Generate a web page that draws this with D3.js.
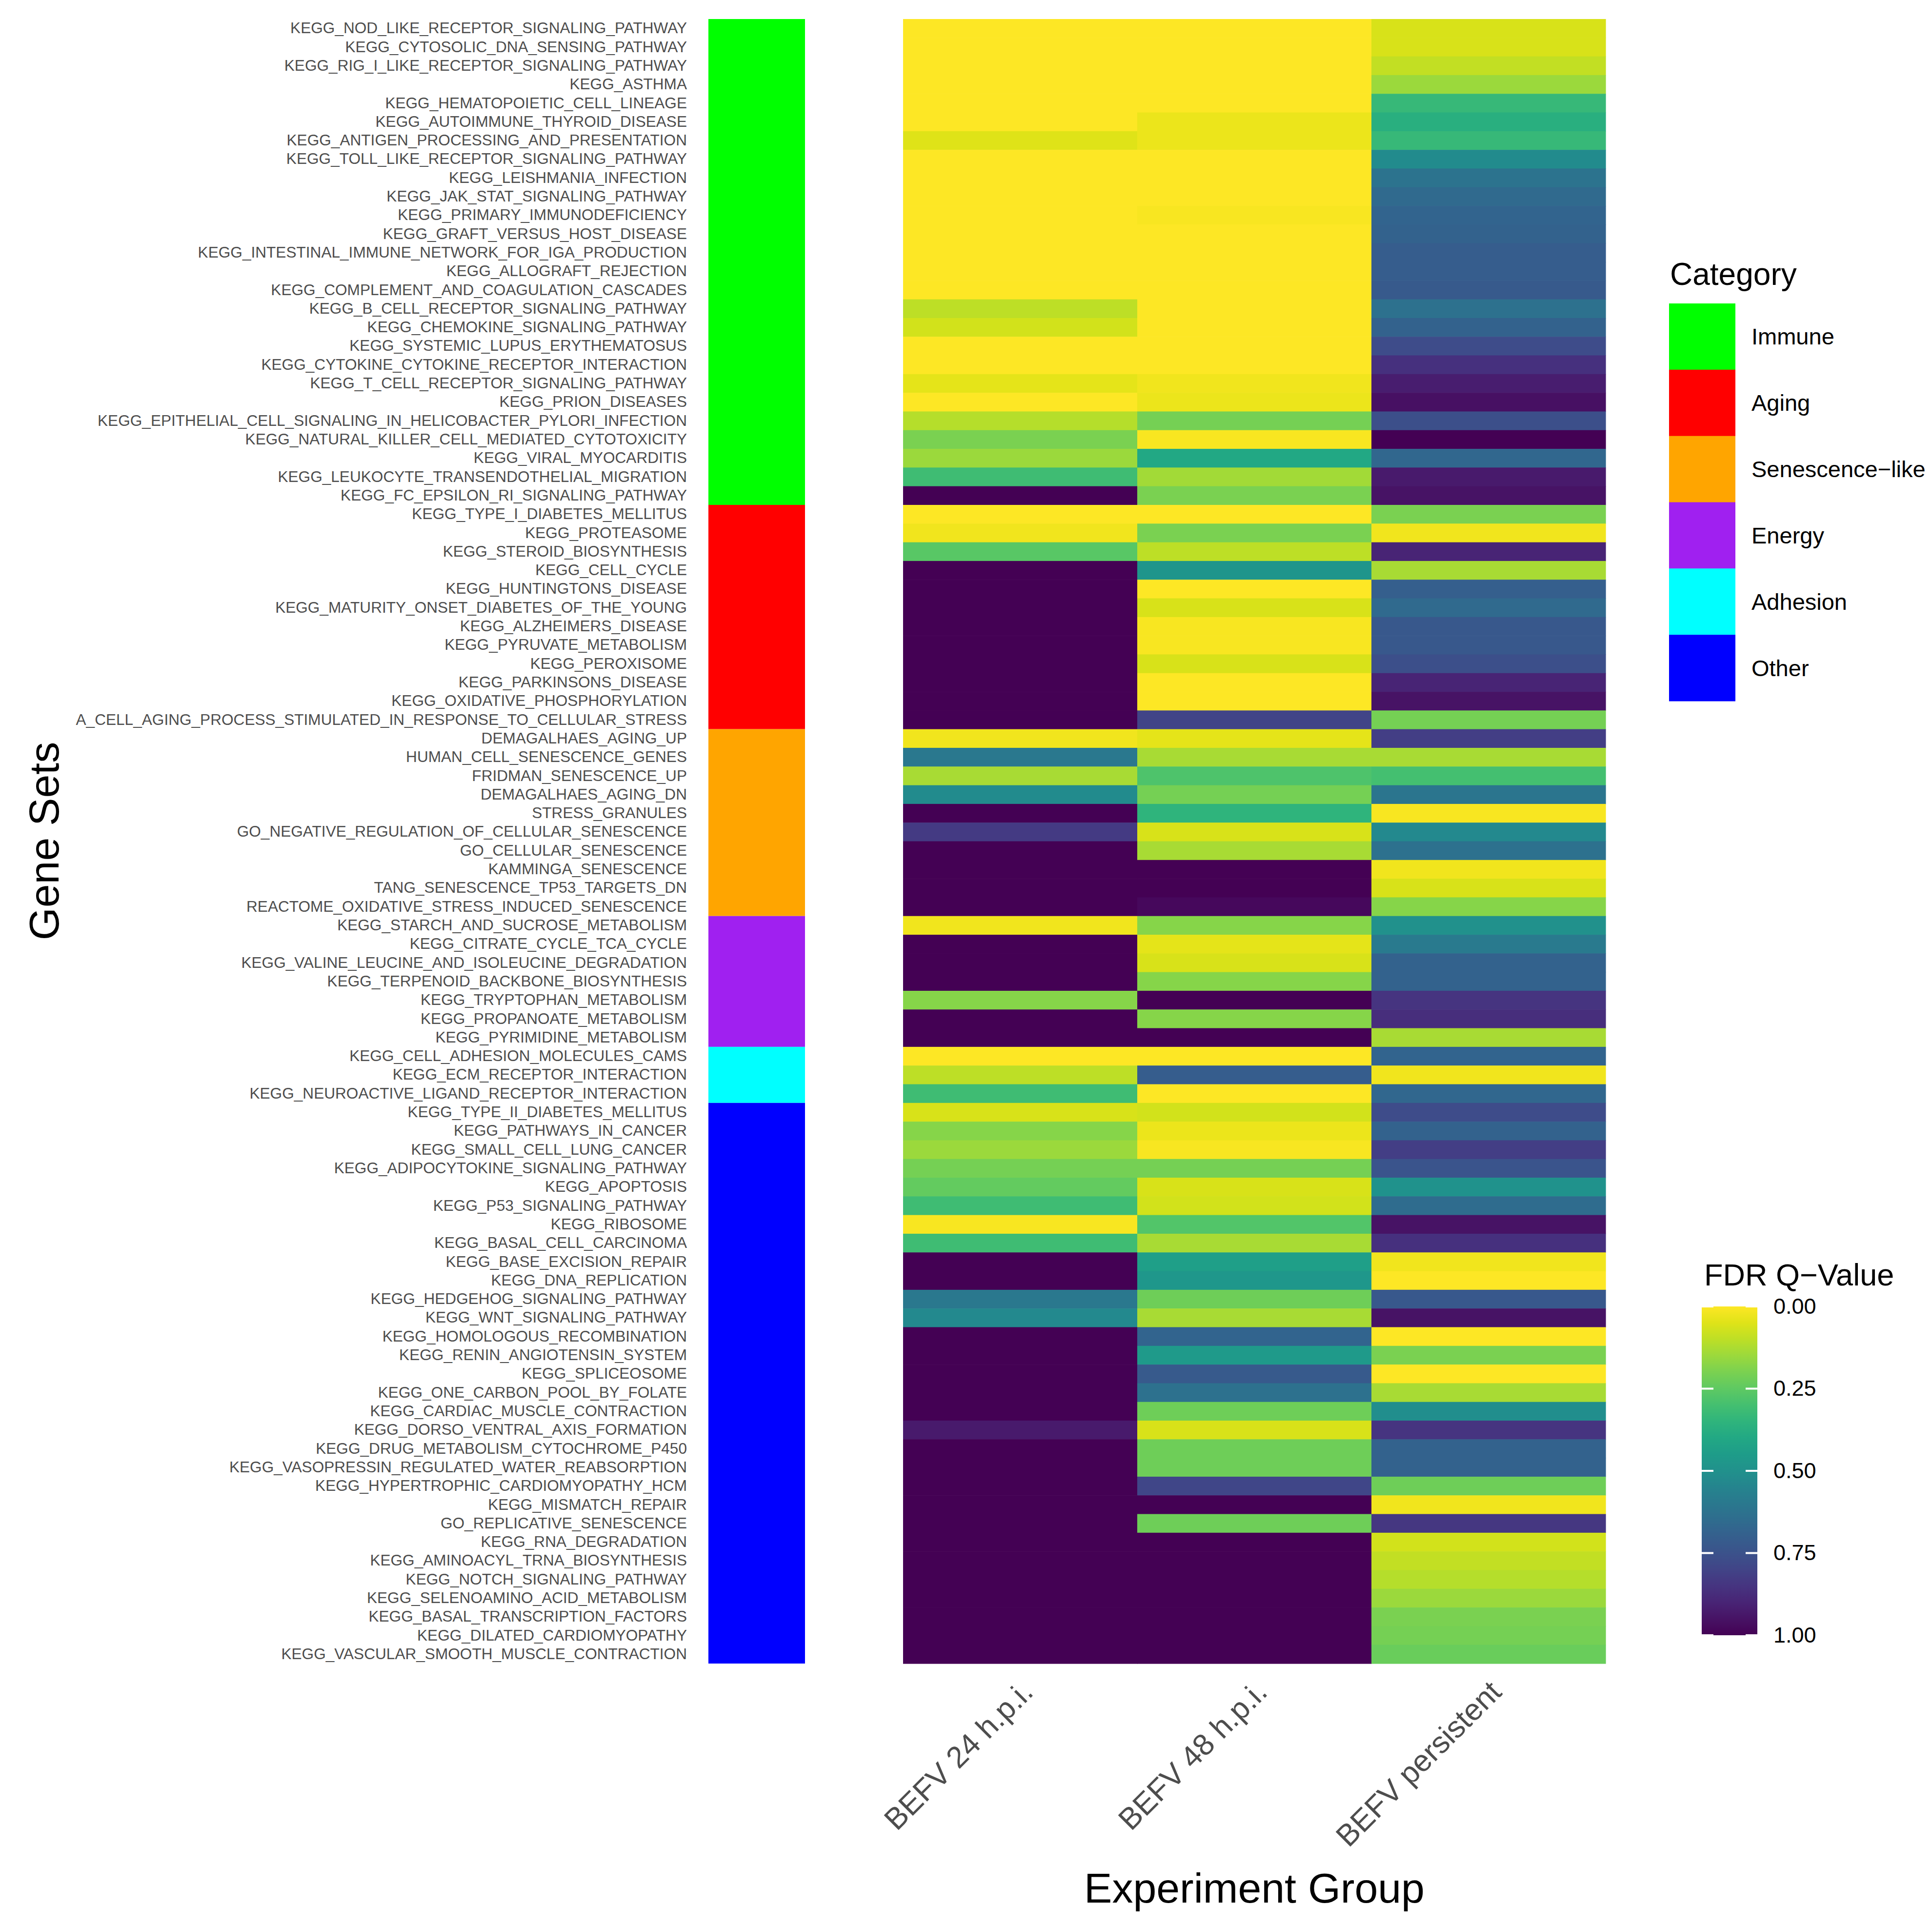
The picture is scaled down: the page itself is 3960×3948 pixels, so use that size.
<!DOCTYPE html>
<html>
<head>
<meta charset="utf-8">
<script src="https://cdn.jsdelivr.net/npm/d3@7"></script>
<style>
  body { margin: 0; background: #fff; }
  svg { display: block; font-family: "Liberation Sans", Arial, sans-serif; }
</style>
</head>
<body>
<svg id="chart" width="3960" height="3948"></svg>
<script>
// gene sets, top to bottom
const geneSets = [
  "KEGG_NOD_LIKE_RECEPTOR_SIGNALING_PATHWAY",
  "KEGG_CYTOSOLIC_DNA_SENSING_PATHWAY",
  "KEGG_RIG_I_LIKE_RECEPTOR_SIGNALING_PATHWAY",
  "KEGG_ASTHMA",
  "KEGG_HEMATOPOIETIC_CELL_LINEAGE",
  "KEGG_AUTOIMMUNE_THYROID_DISEASE",
  "KEGG_ANTIGEN_PROCESSING_AND_PRESENTATION",
  "KEGG_TOLL_LIKE_RECEPTOR_SIGNALING_PATHWAY",
  "KEGG_LEISHMANIA_INFECTION",
  "KEGG_JAK_STAT_SIGNALING_PATHWAY",
  "KEGG_PRIMARY_IMMUNODEFICIENCY",
  "KEGG_GRAFT_VERSUS_HOST_DISEASE",
  "KEGG_INTESTINAL_IMMUNE_NETWORK_FOR_IGA_PRODUCTION",
  "KEGG_ALLOGRAFT_REJECTION",
  "KEGG_COMPLEMENT_AND_COAGULATION_CASCADES",
  "KEGG_B_CELL_RECEPTOR_SIGNALING_PATHWAY",
  "KEGG_CHEMOKINE_SIGNALING_PATHWAY",
  "KEGG_SYSTEMIC_LUPUS_ERYTHEMATOSUS",
  "KEGG_CYTOKINE_CYTOKINE_RECEPTOR_INTERACTION",
  "KEGG_T_CELL_RECEPTOR_SIGNALING_PATHWAY",
  "KEGG_PRION_DISEASES",
  "KEGG_EPITHELIAL_CELL_SIGNALING_IN_HELICOBACTER_PYLORI_INFECTION",
  "KEGG_NATURAL_KILLER_CELL_MEDIATED_CYTOTOXICITY",
  "KEGG_VIRAL_MYOCARDITIS",
  "KEGG_LEUKOCYTE_TRANSENDOTHELIAL_MIGRATION",
  "KEGG_FC_EPSILON_RI_SIGNALING_PATHWAY",
  "KEGG_TYPE_I_DIABETES_MELLITUS",
  "KEGG_PROTEASOME",
  "KEGG_STEROID_BIOSYNTHESIS",
  "KEGG_CELL_CYCLE",
  "KEGG_HUNTINGTONS_DISEASE",
  "KEGG_MATURITY_ONSET_DIABETES_OF_THE_YOUNG",
  "KEGG_ALZHEIMERS_DISEASE",
  "KEGG_PYRUVATE_METABOLISM",
  "KEGG_PEROXISOME",
  "KEGG_PARKINSONS_DISEASE",
  "KEGG_OXIDATIVE_PHOSPHORYLATION",
  "A_CELL_AGING_PROCESS_STIMULATED_IN_RESPONSE_TO_CELLULAR_STRESS",
  "DEMAGALHAES_AGING_UP",
  "HUMAN_CELL_SENESCENCE_GENES",
  "FRIDMAN_SENESCENCE_UP",
  "DEMAGALHAES_AGING_DN",
  "STRESS_GRANULES",
  "GO_NEGATIVE_REGULATION_OF_CELLULAR_SENESCENCE",
  "GO_CELLULAR_SENESCENCE",
  "KAMMINGA_SENESCENCE",
  "TANG_SENESCENCE_TP53_TARGETS_DN",
  "REACTOME_OXIDATIVE_STRESS_INDUCED_SENESCENCE",
  "KEGG_STARCH_AND_SUCROSE_METABOLISM",
  "KEGG_CITRATE_CYCLE_TCA_CYCLE",
  "KEGG_VALINE_LEUCINE_AND_ISOLEUCINE_DEGRADATION",
  "KEGG_TERPENOID_BACKBONE_BIOSYNTHESIS",
  "KEGG_TRYPTOPHAN_METABOLISM",
  "KEGG_PROPANOATE_METABOLISM",
  "KEGG_PYRIMIDINE_METABOLISM",
  "KEGG_CELL_ADHESION_MOLECULES_CAMS",
  "KEGG_ECM_RECEPTOR_INTERACTION",
  "KEGG_NEUROACTIVE_LIGAND_RECEPTOR_INTERACTION",
  "KEGG_TYPE_II_DIABETES_MELLITUS",
  "KEGG_PATHWAYS_IN_CANCER",
  "KEGG_SMALL_CELL_LUNG_CANCER",
  "KEGG_ADIPOCYTOKINE_SIGNALING_PATHWAY",
  "KEGG_APOPTOSIS",
  "KEGG_P53_SIGNALING_PATHWAY",
  "KEGG_RIBOSOME",
  "KEGG_BASAL_CELL_CARCINOMA",
  "KEGG_BASE_EXCISION_REPAIR",
  "KEGG_DNA_REPLICATION",
  "KEGG_HEDGEHOG_SIGNALING_PATHWAY",
  "KEGG_WNT_SIGNALING_PATHWAY",
  "KEGG_HOMOLOGOUS_RECOMBINATION",
  "KEGG_RENIN_ANGIOTENSIN_SYSTEM",
  "KEGG_SPLICEOSOME",
  "KEGG_ONE_CARBON_POOL_BY_FOLATE",
  "KEGG_CARDIAC_MUSCLE_CONTRACTION",
  "KEGG_DORSO_VENTRAL_AXIS_FORMATION",
  "KEGG_DRUG_METABOLISM_CYTOCHROME_P450",
  "KEGG_VASOPRESSIN_REGULATED_WATER_REABSORPTION",
  "KEGG_HYPERTROPHIC_CARDIOMYOPATHY_HCM",
  "KEGG_MISMATCH_REPAIR",
  "GO_REPLICATIVE_SENESCENCE",
  "KEGG_RNA_DEGRADATION",
  "KEGG_AMINOACYL_TRNA_BIOSYNTHESIS",
  "KEGG_NOTCH_SIGNALING_PATHWAY",
  "KEGG_SELENOAMINO_ACID_METABOLISM",
  "KEGG_BASAL_TRANSCRIPTION_FACTORS",
  "KEGG_DILATED_CARDIOMYOPATHY",
  "KEGG_VASCULAR_SMOOTH_MUSCLE_CONTRACTION"
];

const categories = ["Immune", "Aging", "Senescence\u2212like", "Energy", "Adhesion", "Other"];
const categorySizes = [26, 12, 10, 7, 3, 30];
const categoryColors = ["#00ff00", "#ff0000", "#ffa500", "#a020f0", "#00ffff", "#0000ff"];

const groups = ["BEFV 24 h.p.i.", "BEFV 48 h.p.i.", "BEFV persistent"];

// FDR q-values, one per gene set
const q24 = [
  0, 0, 0, 0, 0, 0, 0.05, 0, 0, 0, 0, 0, 0, 0, 0, 0.10, 0.07, 0, 0, 0.04, 0, 0.11, 0.20, 0.15, 0.31, 1,
  0, 0.02, 0.26, 1, 1, 1, 1, 1, 1, 1, 1, 1,
  0.02, 0.60, 0.13, 0.52, 1, 0.83, 1, 1, 1, 1,
  0.02, 1, 1, 1, 0.18, 1, 1,
  0, 0.10, 0.31,
  0.06, 0.18, 0.15, 0.21, 0.24, 0.31, 0.01, 0.31, 1, 1, 0.60, 0.53, 1, 1, 1, 1, 1, 0.93,
  1, 1, 1, 1, 1, 1, 1, 1, 1, 1, 1, 1
];
const q48 = [
  0, 0, 0, 0, 0, 0.03, 0.03, 0, 0, 0, 0.01, 0, 0, 0, 0, 0, 0, 0, 0, 0.02, 0.03, 0.21, 0.01, 0.40, 0.14, 0.20,
  0, 0.20, 0.10, 0.48, 0, 0.06, 0.01, 0.01, 0.06, 0, 0, 0.80,
  0.04, 0.13, 0.28, 0.21, 0.35, 0.06, 0.13, 1, 1, 0.98,
  0.18, 0.04, 0.06, 0.18, 1, 0.18, 1,
  0, 0.71, 0,
  0.07, 0.03, 0.01, 0.21, 0.06, 0.07, 0.27, 0.13, 0.44, 0.47, 0.22, 0.13, 0.68, 0.46, 0.72, 0.63, 0.22, 0.06,
  0.22, 0.22, 0.79, 1, 0.22, 1, 1, 1, 1, 1, 1, 1
];
const qPersistent = [
  0.06, 0.06, 0.09, 0.15, 0.33, 0.37, 0.33, 0.52, 0.62, 0.66, 0.68, 0.69, 0.71, 0.71, 0.72, 0.63, 0.69, 0.77, 0.86, 0.92, 0.96, 0.76, 1, 0.67, 0.93, 0.95,
  0.20, 0.02, 0.90, 0.13, 0.70, 0.66, 0.73, 0.73, 0.76, 0.90, 0.95, 0.21,
  0.82, 0.13, 0.30, 0.61, 0.01, 0.53, 0.63, 0.02, 0.06, 0.18,
  0.50, 0.59, 0.69, 0.69, 0.85, 0.87, 0.13,
  0.68, 0.02, 0.67,
  0.77, 0.69, 0.82, 0.74, 0.49, 0.65, 0.95, 0.86, 0.02, 0, 0.73, 0.95, 0, 0.20, 0, 0.13, 0.51, 0.85,
  0.69, 0.69, 0.22, 0.02, 0.84, 0.07, 0.09, 0.11, 0.15, 0.20, 0.21, 0.23
];
const seriesValues = [q24, q48, qPersistent];
const legendTicks = [0, 0.25, 0.5, 0.75, 1];

const svg = d3.select("#chart");
svg.append("rect").attr("width", 3960).attr("height", 3948).attr("fill", "#fff");

const x = d3.scaleBand(groups, [1851, 3291]);
const y = d3.scaleBand(geneSets, [39, 3410]);
const fill = q => d3.interpolateViridis(1 - q);

// heatmap tiles
const cells = [];
groups.forEach((g, gi) => geneSets.forEach((s, si) => cells.push({ g, s, q: seriesValues[gi][si] })));
svg.append("g").selectAll("rect")
  .data(cells)
  .join("rect")
  .attr("x", d => x(d.g))
  .attr("y", d => y(d.s))
  .attr("width", x.bandwidth() + 0.6)
  .attr("height", y.bandwidth() + 0.6)
  .attr("fill", d => fill(d.q));

// category strip
let start = 0;
const segments = categories.map((c, i) => {
  const seg = { c, color: categoryColors[i], first: geneSets[start], last: geneSets[start + categorySizes[i] - 1] };
  start += categorySizes[i];
  return seg;
});
svg.append("g").selectAll("rect")
  .data(segments)
  .join("rect")
  .attr("x", 1452)
  .attr("width", 198)
  .attr("y", d => y(d.first))
  .attr("height", d => y(d.last) + y.bandwidth() - y(d.first))
  .attr("fill", d => d.color);

// y axis labels
svg.append("g")
  .attr("transform", "translate(1408,0)")
  .call(d3.axisLeft(y).tickSize(0).tickPadding(0))
  .call(g => g.select(".domain").remove())
  .call(g => g.selectAll("text")
    .attr("font-size", 31.6)
    .attr("font-family", "'Liberation Sans', Arial, sans-serif")
    .attr("fill", "#4d4d4d"));

// x axis labels, rotated
svg.append("g").selectAll("text")
  .data(groups)
  .join("text")
  .attr("transform", d => `translate(${x(d) + x.bandwidth() / 2 + 30},3472) rotate(-45)`)
  .attr("text-anchor", "end")
  .attr("font-size", 62)
  .attr("fill", "#4d4d4d")
  .text(d => d);

// axis titles
svg.append("text")
  .attr("x", 2571).attr("y", 3900)
  .attr("text-anchor", "middle")
  .attr("font-size", 86)
  .attr("fill", "#000")
  .text("Experiment Group");
svg.append("text")
  .attr("transform", "translate(120,1724) rotate(-90)")
  .attr("text-anchor", "middle")
  .attr("font-size", 86)
  .attr("fill", "#000")
  .text("Gene Sets");

// category legend
const catLegend = svg.append("g").attr("transform", "translate(3421,0)");
catLegend.append("text")
  .attr("x", 2).attr("y", 584)
  .attr("font-size", 64)
  .text("Category");
const keyY = d3.scaleBand(categories, [622, 1437]);
catLegend.selectAll("rect.key")
  .data(categories)
  .join("rect")
  .attr("class", "key")
  .attr("x", 0)
  .attr("y", d => keyY(d))
  .attr("width", 136)
  .attr("height", keyY.bandwidth() + 0.5)
  .attr("fill", (d, i) => categoryColors[i]);
catLegend.selectAll("text.lab")
  .data(categories)
  .join("text")
  .attr("class", "lab")
  .attr("x", 169)
  .attr("y", d => keyY(d) + keyY.bandwidth() / 2)
  .attr("dy", "0.35em")
  .attr("font-size", 47)
  .text(d => d);

// FDR colour bar legend
const qScale = d3.scaleLinear([0, 1], [2678, 3352]);
const defs = svg.append("defs");
const grad = defs.append("linearGradient")
  .attr("id", "viridisGrad")
  .attr("x1", 0).attr("y1", 0).attr("x2", 0).attr("y2", 1);
d3.range(0, 1.0001, 0.05).forEach(t => {
  grad.append("stop").attr("offset", t).attr("stop-color", fill(t));
});
const bar = svg.append("g");
bar.append("text")
  .attr("x", 3493).attr("y", 2635)
  .attr("font-size", 63)
  .text("FDR Q\u2212Value");
bar.append("rect")
  .attr("x", 3488).attr("y", qScale(0))
  .attr("width", 114).attr("height", qScale(1) - qScale(0))
  .attr("fill", "url(#viridisGrad)");
bar.selectAll("line.tl")
  .data(legendTicks)
  .join("line")
  .attr("class", "tl")
  .attr("x1", 3488).attr("x2", 3512)
  .attr("y1", d => qScale(d)).attr("y2", d => qScale(d))
  .attr("stroke", "#fff").attr("stroke-width", 4);
bar.selectAll("line.tr")
  .data(legendTicks)
  .join("line")
  .attr("class", "tr")
  .attr("x1", 3578).attr("x2", 3602)
  .attr("y1", d => qScale(d)).attr("y2", d => qScale(d))
  .attr("stroke", "#fff").attr("stroke-width", 4);
bar.append("g")
  .attr("transform", "translate(3602,0)")
  .call(d3.axisRight(qScale).tickValues(legendTicks).tickFormat(d3.format(".2f")).tickSize(0).tickPadding(33))
  .call(g => g.select(".domain").remove())
  .call(g => g.selectAll("text")
    .attr("font-size", 45)
    .attr("font-family", "'Liberation Sans', Arial, sans-serif")
    .attr("fill", "#000"));
</script>
</body>
</html>
